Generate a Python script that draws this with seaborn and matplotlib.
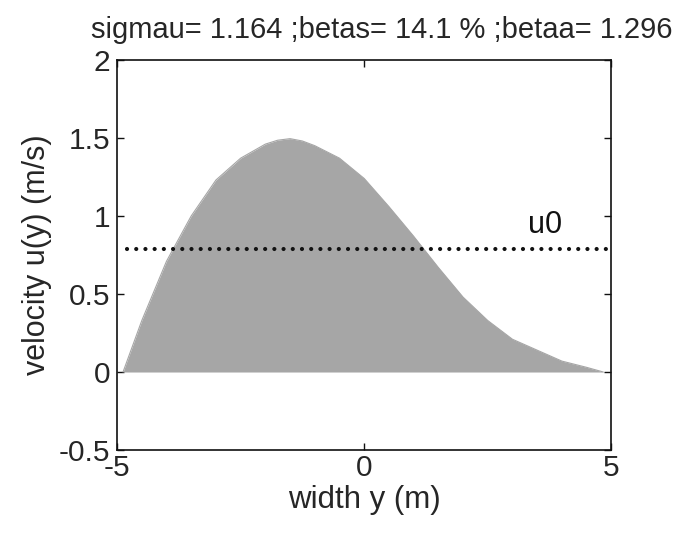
import matplotlib
matplotlib.use("Agg")
import matplotlib.pyplot as plt
import seaborn as sns
import pandas as pd

# data
width_y = [-4.88, -4.5, -4.0, -3.5, -3.0, -2.5, -2.0, -1.75, -1.5, -1.25, -1.0,
           -0.5, 0.0, 0.5, 1.0, 1.5, 2.0, 2.5, 3.0, 3.5, 4.0, 4.5, 4.84]
velocity_u = [0.0, 0.33, 0.71, 1.0, 1.23, 1.37, 1.46, 1.485, 1.495, 1.48, 1.45,
              1.37, 1.24, 1.06, 0.87, 0.67, 0.48, 0.33, 0.21, 0.14, 0.07, 0.03, 0.0]
u0_x = [-4.8, 5.0]
u0_y = [0.79, 0.79]
title_text = "sigmau= 1.164 ;betas= 14.1 % ;betaa= 1.296"
xticks = [-5, 0, 5]
yticks = [-0.5, 0, 0.5, 1, 1.5, 2]
ytick_labels = ["-0.5", "0", "0.5", "1", "1.5", "2"]

sns.set_theme(style="ticks")
plt.rcParams["font.family"] = ["Liberation Sans", "DejaVu Sans"]
plt.rcParams["xtick.direction"] = "in"
plt.rcParams["ytick.direction"] = "in"

fig = plt.figure(figsize=(6.97, 5.39), dpi=100)
ax = fig.add_axes([0.168, 0.165, 0.709, 0.724])

df = pd.DataFrame({"y": width_y, "u": velocity_u})
ax.fill_between(df["y"], 0, df["u"], color="#a6a6a6", linewidth=0)
sns.lineplot(x=df["y"], y=df["u"], ax=ax, color="#a6a6a6", linewidth=0.8)

du = pd.DataFrame({"x": u0_x, "y": u0_y})
sns.lineplot(data=du, x="x", y="y", ax=ax, color="#111111", linewidth=3.0,
             dashes=False)
ax.lines[-1].set_dashes((0.01, 2.2))
ax.lines[-1].set_dash_capstyle("round")
ax.text(3.32, 0.89, "u0", fontsize=22, color="#111111")

ax.set_xlim(-5, 5)
ax.set_ylim(-0.5, 2)
ax.set_xticks(xticks)
ax.set_xticklabels([str(t) for t in xticks])
ax.set_yticks(yticks)
ax.set_yticklabels(ytick_labels)
ax.tick_params(axis="both", labelsize=21.5, length=5, width=1, color="#111111",
               top=True, right=True, pad=3)
ax.tick_params(axis="y", pad=5)
for s in ax.spines.values():
    s.set_linewidth(1.2)
    s.set_color("#111111")
ax.set_xlabel("width y (m)", fontsize=22.5, labelpad=2)
ax.set_ylabel("velocity u(y) (m/s)", fontsize=22, labelpad=5)
ax.set_title(title_text, fontsize=21, pad=16, x=0.536)

fig.savefig("out.png", dpi=100)
